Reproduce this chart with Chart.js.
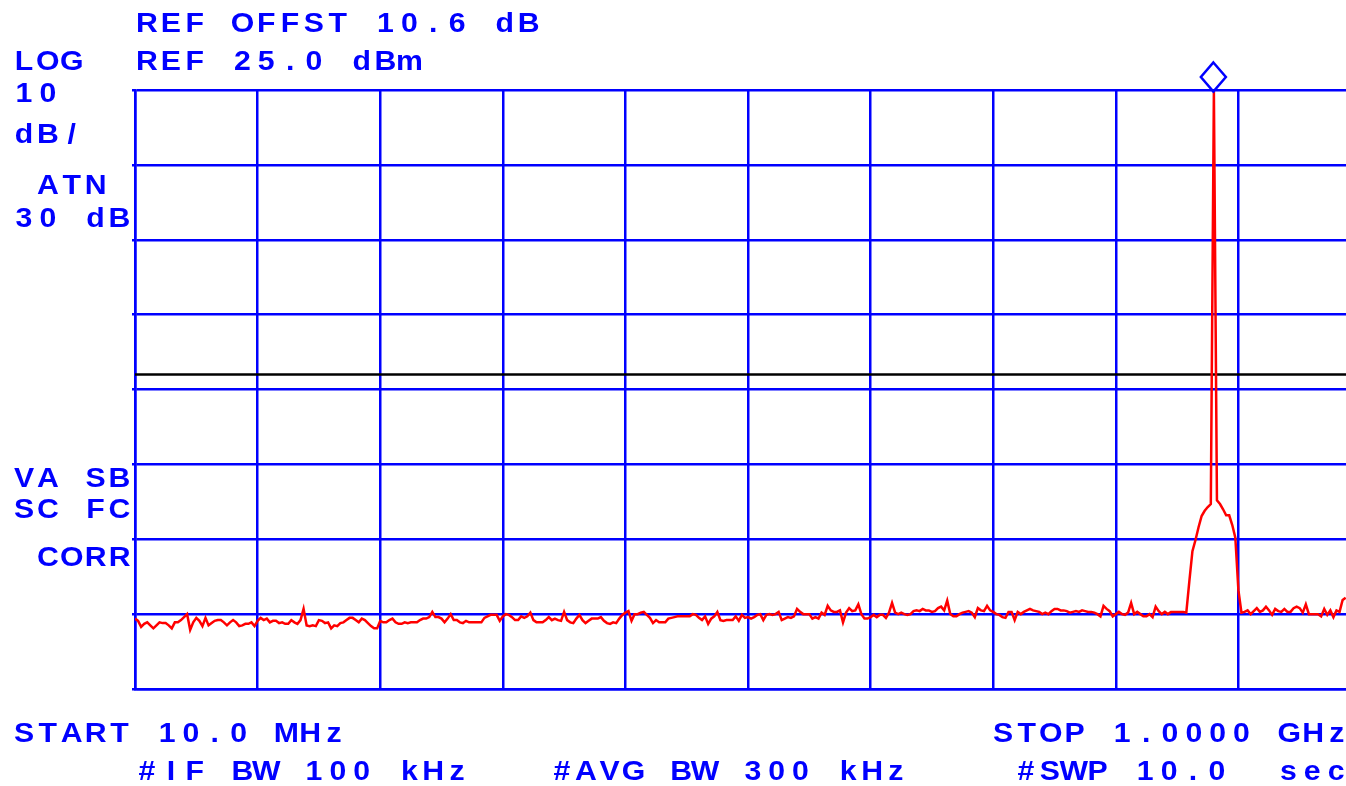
<!DOCTYPE html>
<html>
<head>
<meta charset="utf-8">
<script src="https://cdn.jsdelivr.net/npm/chart.js@4.4.1/dist/chart.umd.min.js"></script>
<style>
  html, body { margin:0; padding:0; background:#fff; overflow:hidden; }
  #wrap { position:relative; width:1362px; height:786px; }
</style>
</head>
<body>
<div id="wrap"><canvas id="sa"></canvas></div>
<script>
// sweep settings
const START_MHZ = 10;
const STOP_MHZ = 1000;
const SWEEP_POINTS = 401;
const REF_DBM = 25;
const DB_PER_DIV = 10;
const Y_DIVS = 8;
const X_DIVS = 10;
const DISPLAY_LINE_DBM = -13;

// trace, dBm, two rows per horizontal division (40 sweep points each)
const TRACE_DBM = [
  -45.6,-45.9,-46.7,-46.3,-46.1,-46.5,-46.9,-46.5,-46.1,-46.2,-46.2,-46.5,-46.9,-46.1,-46.1,-45.8,-45.4,-45.0,-47.1,-46.1,
  -45.5,-45.9,-46.6,-45.5,-46.5,-46.2,-45.9,-45.8,-45.8,-46.1,-46.5,-46.1,-45.8,-46.1,-46.6,-46.5,-46.3,-46.3,-46.1,-46.6,
  -45.9,-45.5,-45.8,-45.6,-46.1,-45.9,-45.9,-46.2,-46.1,-46.3,-46.3,-45.8,-46.1,-46.3,-45.8,-44.3,-46.5,-46.6,-46.5,-46.6,
  -45.8,-45.9,-46.2,-46.1,-46.9,-46.5,-46.6,-46.2,-46.1,-45.8,-45.5,-45.5,-45.8,-46.1,-45.6,-45.8,-46.2,-46.6,-46.9,-46.9,
  -45.9,-46.1,-46.1,-45.8,-45.6,-46.1,-46.3,-46.3,-46.1,-46.2,-46.1,-46.1,-46.1,-45.8,-45.6,-45.6,-45.4,-44.7,-45.4,-45.4,
  -45.6,-46.1,-45.6,-45.0,-45.8,-45.8,-46.1,-46.2,-45.9,-46.1,-46.1,-46.1,-46.1,-46.1,-45.5,-45.3,-45.1,-45.1,-45.1,-45.9,
  -45.3,-45.0,-45.1,-45.4,-45.8,-45.8,-45.3,-45.5,-45.3,-44.8,-45.8,-46.1,-46.1,-46.1,-45.8,-45.4,-45.8,-45.6,-45.8,-45.9,
  -44.7,-45.8,-46.1,-46.2,-45.6,-45.1,-45.8,-46.2,-45.9,-45.6,-45.6,-45.6,-45.4,-45.9,-46.2,-46.3,-46.1,-46.2,-45.6,-45.1,
  -44.8,-44.6,-45.9,-45.0,-45.0,-44.8,-44.7,-45.1,-45.5,-46.2,-45.8,-46.1,-46.1,-46.1,-45.6,-45.5,-45.4,-45.3,-45.3,-45.3,
  -45.3,-45.3,-45.0,-45.1,-45.5,-45.8,-45.3,-46.3,-45.6,-45.3,-44.7,-45.8,-45.9,-45.8,-45.8,-45.8,-45.3,-45.9,-45.1,-45.5,
  -45.4,-45.6,-45.4,-45.1,-45.0,-45.8,-45.1,-45.0,-45.1,-45.0,-44.7,-45.8,-45.6,-45.4,-45.5,-45.3,-44.3,-44.7,-45.0,-45.0,
  -45.0,-45.6,-45.4,-45.6,-44.8,-45.1,-43.9,-44.5,-44.7,-44.7,-44.5,-46.1,-44.8,-44.2,-44.6,-44.5,-43.7,-45.0,-45.6,-45.6,
  -45.4,-45.1,-45.4,-45.1,-45.1,-45.5,-44.8,-43.5,-44.8,-45.0,-44.8,-45.0,-45.1,-45.0,-44.6,-44.5,-44.6,-44.3,-44.5,-44.5,
  -44.7,-44.6,-44.2,-44.0,-44.5,-43.2,-45.0,-45.3,-45.3,-45.0,-44.8,-44.7,-44.6,-44.8,-45.4,-44.2,-44.5,-44.6,-43.9,-44.5,
  -44.7,-45.0,-45.1,-45.4,-45.5,-44.7,-44.7,-45.8,-44.7,-45.0,-44.7,-44.5,-44.3,-44.5,-44.6,-44.7,-45.0,-44.8,-45.0,-44.6,
  -44.3,-44.3,-44.5,-44.5,-44.6,-44.8,-44.7,-44.6,-44.7,-44.5,-44.6,-44.7,-44.7,-44.8,-45.0,-45.3,-43.9,-44.3,-44.6,-45.3,
  -45.0,-44.7,-45.0,-45.1,-44.8,-43.5,-45.0,-44.7,-45.0,-45.3,-45.3,-45.0,-45.4,-44.0,-44.6,-45.0,-44.7,-45.0,-44.7,-44.7,
  -44.7,-44.7,-44.7,-44.8,-40.6,-36.6,-35.1,-33.4,-31.9,-31.2,-30.7,-30.3, 24.8,-29.8,-30.3,-31.0,-31.8,-31.8,-33.1,-34.8,
  -41.8,-44.8,-44.7,-44.5,-45.0,-44.6,-44.2,-44.7,-44.5,-44.0,-44.5,-45.1,-44.3,-44.6,-44.7,-44.3,-44.7,-44.7,-44.2,-44.0,
  -44.2,-44.8,-43.7,-45.0,-45.0,-45.0,-45.0,-45.3,-44.3,-45.1,-44.5,-45.4,-44.5,-44.7,-43.1,-42.8
];

// screen annotations
const TXT_REF_OFFSET = 'REF OFFST 10.6 dB';
const TXT_REF_LEVEL  = 'REF 25.0 dBm';
const TXT_LEFT = ['LOG', '10', 'dB/', 'ATN', '30 dB', 'VA SB', 'SC FC', 'CORR'];
const TXT_START = 'START 10.0 MHz';
const TXT_STOP  = 'STOP 1.0000 GHz';
const TXT_IFBW  = '#IF BW 100 kHz';
const TXT_AVGBW = '#AVG BW 300 kHz';
const TXT_SWP   = '#SWP 10.0  sec';

const BLUE = '#0000ff';
const STEP_MHZ = (STOP_MHZ - START_MHZ) / (SWEEP_POINTS - 1);
const bottomDbm = REF_DBM - Y_DIVS * DB_PER_DIV;

const tracePts = TRACE_DBM.map((v, i) => ({ x: START_MHZ + i * STEP_MHZ, y: v }));
const dlinePts = [{ x: START_MHZ, y: DISPLAY_LINE_DBM }, { x: STOP_MHZ, y: DISPLAY_LINE_DBM }];

// fixed-pitch text like the analyzer's plotter output
const CELL = 23.85, CX = 10, HSCALE = 1.12;
const textPlugin = {
  id: 'saText',
  afterDraw(chart) {
    const ctx = chart.ctx;
    const put = (s, left, y) => {
      for (let j = 0; j < s.length; j++) {
        if (s[j] === ' ') continue;
        ctx.save();
        ctx.translate(left + j * CELL + CX, y);
        ctx.scale(HSCALE, 1);
        ctx.fillText(s[j], 0, 0);
        ctx.restore();
      }
    };
    ctx.save();
    ctx.fillStyle = BLUE;
    ctx.font = 'bold 27px "Liberation Sans", Arial, sans-serif';
    ctx.textAlign = 'center';
    ctx.textBaseline = 'alphabetic';
    put(TXT_REF_OFFSET, 137, 32);
    put(TXT_REF_LEVEL, 137, 70);
    const leftRows = [[14, 70], [14, 102], [14, 143], [38, 194], [14, 227], [14, 487], [14, 518], [38, 566]];
    TXT_LEFT.forEach((s, k) => put(s, leftRows[k][0], leftRows[k][1]));
    put(TXT_START, 14, 742);
    put(TXT_STOP, 993, 742);
    put(TXT_IFBW, 137, 780);
    put(TXT_AVGBW, 552, 780);
    put(TXT_SWP, 1016, 780);

    // marker diamond on the peak
    let pk = 0;
    TRACE_DBM.forEach((v, i) => { if (v > TRACE_DBM[pk]) pk = i; });
    const p = chart.getDatasetMeta(0).data[pk];
    const cx = p.x - 0.5, cy = p.y - 14.5;
    ctx.strokeStyle = BLUE;
    ctx.lineWidth = 2.5;
    ctx.beginPath();
    ctx.moveTo(cx, cy - 14.5);
    ctx.lineTo(cx + 12.5, cy);
    ctx.lineTo(cx, cy + 14.5);
    ctx.lineTo(cx - 12.5, cy);
    ctx.closePath();
    ctx.stroke();
    ctx.restore();
  }
};

new Chart(document.getElementById('sa'), {
  type: 'line',
  data: {
    datasets: [
      { data: tracePts, borderColor: '#ff0000', borderWidth: 2.5, pointRadius: 0, tension: 0, fill: false },
      { data: dlinePts, borderColor: '#000000', borderWidth: 2.5, pointRadius: 0, fill: false }
    ]
  },
  options: {
    responsive: true,
    maintainAspectRatio: false,
    animation: false,
    layout: { padding: { left: 132, top: 90, right: 1, bottom: 97 } },
    plugins: { legend: { display: false }, tooltip: { enabled: false } },
    scales: {
      x: {
        type: 'linear', min: START_MHZ, max: STOP_MHZ,
        afterBuildTicks: s => { s.ticks = Array.from({ length: X_DIVS + 1 }, (_, k) => ({ value: START_MHZ + k * (STOP_MHZ - START_MHZ) / X_DIVS })); },
        ticks: { display: false },
        grid: { color: BLUE, lineWidth: 2.5, drawTicks: false },
        border: { color: BLUE, width: 2.5 }
      },
      y: {
        min: bottomDbm, max: REF_DBM,
        afterBuildTicks: s => { s.ticks = Array.from({ length: Y_DIVS + 1 }, (_, k) => ({ value: bottomDbm + k * DB_PER_DIV })); },
        ticks: { display: false },
        grid: { color: BLUE, lineWidth: 2.5, drawTicks: true, tickLength: 3 },
        border: { color: BLUE, width: 2.5 }
      }
    }
  },
  plugins: [textPlugin]
});
</script>
</body>
</html>
